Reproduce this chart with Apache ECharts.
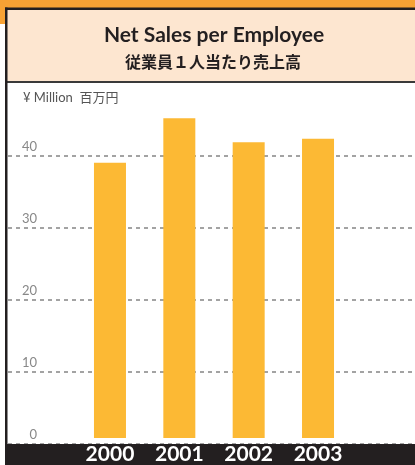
<!DOCTYPE html>
<html>
<head>
<meta charset="utf-8">
<script src="https://cdn.jsdelivr.net/npm/echarts@6/dist/echarts.min.js"></script>
<style>
html, body { margin: 0; padding: 0; background: #fff; }
#chart1 { width: 415px; height: 465px; }
</style>
</head>
<body>
<div id="chart1"></div>
<script>
var years = ['2000', '2001', '2002', '2003'];
var salesPerEmployee = [38.9, 45.2, 41.8, 42.3];
var yTicks = [0, 10, 20, 30, 40];

var dom = document.getElementById("chart1");
var myChart = echarts.init(dom);

var dark = '#231F20';
var option = {
  backgroundColor: '#fff',
  animation: false,
  graphic: [
    // orange corner
    { type: 'rect', z: 100, shape: { x: 0, y: 0, width: 415, height: 8 }, style: { fill: '#F7A234' } },
    { type: 'rect', z: 100, shape: { x: 0, y: 0, width: 6, height: 24 }, style: { fill: '#F7A234' } },
    // header box
    { type: 'rect', z: 100, shape: { x: 7, y: 9, width: 410, height: 73 }, style: { fill: '#FDE6D0' } },
    { type: 'rect', z: 101, shape: { x: 5, y: 7.5, width: 410, height: 2.5 }, style: { fill: dark } },
    { type: 'rect', z: 101, shape: { x: 7, y: 81, width: 410, height: 2 }, style: { fill: '#3a3a3a' } },
    { type: 'rect', z: 101, shape: { x: 5, y: 7.5, width: 2.5, height: 460 }, style: { fill: dark } },
    {
      type: 'text', z: 102, top: 25,
      style: { text: 'Net Sales per Employee', font: 'bold 21px Lato, "Noto Sans", sans-serif', fill: '#231F20', textAlign: 'center', x: 214 }
    },
    {
      type: 'text', z: 102, top: 54,
      style: { text: '従業員１人当たり売上高', font: 'bold 16px "Noto Sans CJK JP", sans-serif', fill: '#231F20', textAlign: 'center', x: 213 }
    },
    {
      type: 'text', z: 102, left: 23, top: 91,
      style: { text: '¥ Million  百万円', font: '13px Lato, "Noto Sans CJK JP", sans-serif', fill: '#555' }
    },
    // bottom band
    { type: 'rect', z: 5, shape: { x: 7, y: 444, width: 410, height: 25 }, style: { fill: dark } }
  ],
  grid: [
    { left: 8, right: 3, top: 98.4, bottom: 21 },
    { left: 75.3, width: 277.4, top: 98.4, bottom: 21 }
  ],
  xAxis: [
    { gridIndex: 0, type: 'value', show: false, min: 0, max: 1 },
    {
      gridIndex: 1,
      type: 'category',
      data: years,
      axisLine: { show: false },
      axisTick: { show: false },
      z: 20,
      axisLabel: {
        margin: 6,
        color: '#fff',
        fontSize: 21,
        fontWeight: 'bold',
        fontFamily: 'Lato, "Noto Sans", sans-serif'
      }
    }
  ],
  yAxis: [
    {
      gridIndex: 0,
      type: 'value',
      min: 0,
      max: 48,
      interval: 10,
      axisLine: { show: false },
      axisTick: { show: false },
      splitLine: {
        show: true,
        showMaxLine: false,
        lineStyle: { color: '#858585', width: 1.5, type: [4, 4] }
      },
      axisLabel: {
        inside: true,
        margin: 29,
        align: 'right',
        verticalAlign: 'bottom',
        padding: [0, 0, 3, 0],
        showMaxLabel: false,
        color: '#888',
        fontSize: 13,
        fontFamily: 'Lato, "Noto Sans", sans-serif',
        formatter: function (v) {
          return yTicks.indexOf(v) >= 0 ? String(v) : '';
        }
      }
    },
    { gridIndex: 1, type: 'value', min: 0, max: 48, show: false, splitLine: { show: false } }
  ],
  series: [
    {
      name: 'Net Sales per Employee',
      type: 'bar',
      xAxisIndex: 1,
      yAxisIndex: 1,
      barWidth: 32,
      z: 3,
      itemStyle: { color: '#FCB934' },
      data: salesPerEmployee
    }
  ]
};

myChart.setOption(option);
</script>
</body>
</html>
